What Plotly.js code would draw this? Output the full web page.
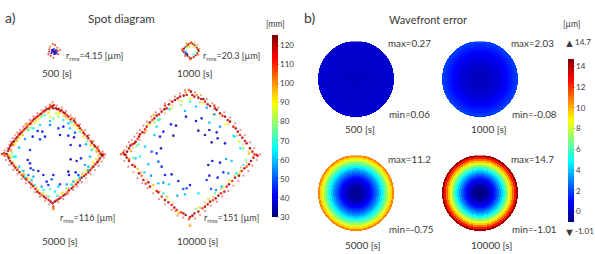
<!DOCTYPE html>
<html><head><meta charset="utf-8">
<script src="https://cdn.plot.ly/plotly-3.0.1.min.js"></script>
<style>html,body{margin:0;padding:0;background:#fff}#c{width:595px;height:254px}</style>
</head><body><div id="c"></div>
<script>
// Spot positions [x µm, y µm, radius mm] on the detector (origin: panel corner, y down)
const spots500 = [[72,50,125],[70,52,118],[74,48,120],[65,45,42],[78,45,40],[64,55,42],[80,55,38],[72,42,45],[72,58,42],[66,50,38],[78,50,36],[70,47,34],[75,53,34],[68,44,40],[76,56,40],
[68,27,108],[75,30,112],[58,43,110],[55,58,115],[85,58,112],[70,68,108],[90,45,110],[60,35,105],[82,38,108],[62,62,116],[83,48,118],[58,50,120]];
const spots1000 = [[62,24,118],[68,27,122],[74,31,120],[80,38,122],[84,44,125],[86,48,124],[82,55,125],[77,61,125],[71,66,123],[64,70,125],[58,67,123],[52,62,125],[47,58,125],[42,52,124],[38,47,125],[42,41,125],[46,36,123],[52,31,120],[56,27,122],
[64,21,105],[72,24,98],[50,25,100],[82,30,95],[88,42,100],[36,42,105],[85,60,102],[45,63,105],[60,73,108],[46,48,60],[48,54,45],[52,58,40],[70,58,70],[76,50,80],[60,31,90],[70,36,85],[50,38,78],[56,35,95]];
const spots5000 = [
[6,207,110],[13,205,118],[20,207,125],[24,198,118],[27,191,122],[31,184,116],[34,178,124],[38,172,120],[42,168,125],[40,180,105],[45,177,88],[33,196,100],[36,205,78],[47,161,118],[52,156,122],[50,168,98],[56,150,112],[60,146,124],[58,160,90],[65,142,118],[69,137,108],[68,150,95],[74,132,122],[77,118,98],[80,127,116],[84,122,105],[84,135,85],[89,117,120],[93,113,110],[92,128,78],[98,107,118],[103,102,124],[104,113,92],[108,98,112],[113,94,120],[115,103,88],[119,89,116],[124,86,122],[125,95,75],[130,80,118],[135,77,112],[134,90,70],[140,73,120],[146,71,124],[145,83,95],[152,67,118],[157,63,126],[160,70,122],[150,62,105],[162,60,112],
[168,70,120],[172,73,115],[176,72,124],[180,78,110],[184,76,120],[176,85,90],[168,86,82],[190,82,118],[195,85,122],[192,92,96],[200,90,110],[205,95,120],[202,102,85],[212,103,118],[216,100,105],[215,112,72],[222,107,124],[226,113,116],[222,120,92],[232,120,110],[236,123,122],[233,130,88],[240,130,118],[245,135,105],[240,140,78],[250,143,120],[254,148,112],[250,155,92],[262,153,124],[265,160,118],[262,168,75],[272,168,110],[276,173,122],[272,180,95],[282,180,116],[286,185,124],[280,190,88],[292,190,112],[296,197,120],[290,200,98],[300,203,108],[304,208,126],[296,210,95],[310,209,118],[306,213,122],
[300,220,118],[296,226,110],[288,222,85],[292,232,122],[286,238,116],[280,232,92],[280,245,124],[275,250,110],[268,245,80],[270,256,118],[265,262,122],[258,258,90],[258,268,112],[252,273,124],[248,270,95],[245,278,118],[240,285,108],[238,275,72],[234,292,122],[228,298,116],[228,288,88],[220,305,110],[215,310,124],[213,298,78],[207,316,118],[202,322,108],[200,310,82],[196,328,120],[190,332,122],[185,325,92],[182,338,116],[176,342,124],[172,332,70],[170,346,118],[164,350,125],[158,355,122],[160,365,110],[160,372,105],
[152,350,124],[146,345,118],[146,335,75],[138,340,116],[132,335,122],[130,325,85],[125,330,108],[118,325,118],[115,315,92],[112,320,122],[106,312,115],[100,305,95],[100,303,120],[94,298,116],[88,292,122],[88,282,88],[80,285,110],[76,280,120],[72,268,95],[70,275,118],[65,270,108],[62,260,80],[58,262,122],[52,255,116],[48,245,90],[46,248,120],[41,242,112],[38,232,98],[35,235,124],[30,228,118],[33,217,82],[27,220,122],[24,214,116],[28,210,95],[40,215,72],[47,215,65],[14,212,105],
[127,140,42],[113,138,42],[98,155,40],[75,162,55],[150,120,52],[150,108,60],[175,130,45],[190,125,42],[180,150,35],[205,152,40],[225,143,50],[222,157,38],[212,180,36],[240,182,42],[258,178,58],[120,163,45],[135,155,38],[57,188,60],[45,215,68],[58,245,62],[70,258,58],[90,195,45],[83,225,38],[90,235,42],[92,250,45],[100,255,50],[85,270,52],[100,275,58],[115,258,35],[130,270,40],[160,270,36],[155,283,50],[140,290,42],[145,300,44],[125,305,58],[180,298,46],[175,305,62],[205,260,36],[207,270,40],[227,262,42],[243,220,40],[230,228,36],[212,223,32],[255,240,56],[265,245,62],[270,215,60],[275,195,62],[265,255,60],[235,270,48],[240,280,58],[220,290,58],[215,300,68],[200,298,56],[130,315,66],[150,312,72],[165,320,65],[95,285,60],[75,275,68],[105,300,70],[160,100,75],[175,95,80],[190,105,68],[205,115,60],[150,95,85],[210,130,62],[120,120,62],[100,130,66],[85,135,70]];
const fringe5000 = [[14,197,115],[22,190,110],[28,180,118],[32,170,112],[38,160,115],[45,150,110],[52,143,118],[60,135,112],[70,125,116],[80,115,110],[90,105,118],[100,95,112],[112,85,116],[125,75,110],[138,66,118],[150,58,112],[158,52,115],
[44,172,100],[55,160,105],[62,152,98],[72,140,92],[82,130,100],[95,118,105],[108,108,100],[120,95,95],[135,85,90],[150,75,100],
[170,62,115],[185,68,110],[198,78,118],[212,92,112],[225,100,116],[240,118,110],[255,135,118],[268,150,112],[280,168,116],[295,185,110],[308,200,118],[316,208,112],
[180,84,100],[198,96,105],[210,110,98],[228,122,100],[244,140,95],[258,158,102],[275,175,100],[288,195,92],
[312,218,115],[305,230,110],[296,242,118],[285,255,112],[272,268,116],[258,280,110],[245,292,118],[232,305,112],[220,315,116],[205,328,110],[190,342,118],[175,352,112],
[290,230,100],[276,242,95],[262,256,102],[248,265,98],[232,285,100],[218,298,92],[205,310,105],[190,322,98],[176,335,100],
[148,358,115],[135,348,110],[120,335,118],[105,322,112],[92,308,116],[78,295,110],[65,282,118],[52,268,112],[40,255,116],[28,240,110],[18,225,118],
[140,332,100],[125,322,95],[110,308,102],[96,292,98],[82,278,100],[68,265,92],[55,250,105],[42,235,98]];
const spots10000 = [
[18,208,105],[25,203,112],[32,210,120],[36,200,124],[42,190,118],[46,182,124],[52,178,115],[48,198,100],[58,175,118],[62,170,122],[68,162,110],[72,155,120],[65,183,78],[70,178,72],[75,148,118],[82,142,122],[88,143,105],[90,133,112],[95,125,118],[100,118,92],[105,112,120],[112,105,110],[116,90,98],[118,100,118],[125,92,122],[118,112,80],[132,88,116],[125,125,62],[128,105,72],[135,103,75],[140,80,120],[148,73,124],[150,62,110],[155,70,118],[162,58,122],[168,70,88],[172,50,116],[180,45,124],[188,40,118],[195,35,120],[200,48,85],[206,32,122],[215,30,118],[222,15,108],[228,20,124],[212,22,100],[232,30,120],[225,40,90],
[238,35,116],[245,30,100],[250,38,122],[258,42,118],[265,42,124],[270,50,112],[262,55,85],[278,58,118],[285,63,122],[298,62,110],[300,70,120],[305,75,124],[295,88,92],[315,85,118],[322,92,110],[330,95,122],[338,105,118],[345,110,124],[332,118,90],[355,125,116],[362,130,120],[368,140,122],[355,152,70],[375,150,112],[382,158,120],[372,170,86],[390,168,118],[395,175,122],[385,190,78],[405,190,124],[402,205,96],[412,200,118],[418,208,110],[425,210,126],[428,212,112],
[415,218,118],[408,228,122],[402,238,118],[392,225,75],[395,245,108],[388,250,122],[380,258,116],[375,262,92],[372,272,124],[365,265,75],[360,278,118],[352,288,110],[345,285,85],[342,298,122],[335,305,116],[325,308,85],[328,320,120],[318,325,112],[310,332,122],[300,325,75],[302,340,118],[294,346,108],[285,350,122],[278,358,116],[280,342,92],[270,365,120],[262,370,110],[255,368,82],[250,380,122],[242,372,78],[238,385,116],[232,392,124],[225,396,118],[222,402,108],[225,422,100],
[212,390,122],[205,385,118],[198,382,110],[190,385,95],[185,375,116],[178,368,122],[182,378,102],[170,360,112],[160,352,118],[158,338,85],[150,345,122],[145,325,70],[140,335,110],[130,322,120],[125,318,116],[115,300,95],[105,305,118],[100,292,122],[92,296,108],[85,285,118],[80,272,105],[72,265,120],[68,252,95],[60,245,116],[52,240,122],[42,228,118],[55,218,75],[35,218,120],[42,222,105],[28,208,124],[62,220,62],
[168,118,40],[183,122,36],[145,140,42],[118,150,60],[135,155,42],[175,152,30],[213,95,38],[210,78,58],[243,108,38],[260,100,42],[298,88,55],[315,125,56],[283,113,60],[283,135,38],[305,142,40],[270,150,35],[250,137,32],[308,160,38],[290,172,32],[330,175,38],[358,155,62],[376,190,66],[90,185,62],[110,200,50],[125,205,45],[138,190,36],[75,215,70],[100,238,60],[130,230,50],[140,245,42],[150,270,42],[170,268,38],[88,262,62],[108,272,55],[130,295,60],[145,293,55],[162,298,62],[190,288,42],[205,312,48],[215,310,50],[187,332,58],[210,328,60],[225,300,42],[250,325,66],[280,240,34],[292,228,38],[315,233,42],[333,222,56],[350,228,60],[340,265,55],[325,262,45],[283,272,38],[308,278,42],[275,285,45],[288,312,50],[303,315,55],[320,305,60],[365,265,68],[385,240,70],[198,60,78],[225,50,72],[243,65,62],[275,68,60],[163,73,66],[132,105,70]];
const fringe10000 = [[28,196,115],[35,185,110],[42,172,118],[50,165,112],[58,155,115],[66,145,110],[75,135,118],[85,122,112],[96,110,116],[108,95,110],[122,82,118],[136,72,112],[150,55,116],[165,47,110],[180,35,118],[195,25,112],[210,15,115],
[55,188,100],[75,165,105],[95,138,98],[110,120,92],[130,100,100],[150,85,105],[172,62,100],[192,48,95],
[240,22,115],[258,30,110],[275,42,118],[292,55,112],[310,68,116],[328,82,110],[345,98,118],[360,115,112],[376,135,116],[390,150,110],[405,172,118],[418,190,112],[436,208,115],
[255,52,100],[275,70,105],[295,75,98],[315,98,92],[340,118,100],[365,152,105],[385,178,100],[400,198,95],
[425,225,115],[412,242,110],[400,258,118],[385,272,112],[370,288,116],[355,302,110],[340,318,118],[322,335,112],[305,350,116],[288,362,110],[270,378,118],[255,390,112],[240,400,115],
[395,232,100],[378,248,105],[358,270,98],[338,290,92],[318,312,100],[295,335,105],[270,352,100],[250,368,95],
[205,398,115],[188,392,110],[170,375,118],[150,358,112],[132,342,116],[115,325,110],[98,310,118],[82,295,112],[68,280,116],[55,262,110],[40,245,118],[28,228,112],
[175,355,100],[155,335,105],[135,318,98],[115,312,92],[95,285,100],[78,262,105],[58,238,100],[40,222,95]];

// Wavefront error [µm] in 20 rings from pupil centre to edge
const wave500 = [0.06,0.06,0.06,0.07,0.07,0.08,0.08,0.09,0.10,0.11,0.12,0.13,0.14,0.16,0.17,0.19,0.20,0.22,0.24,0.26];
const wave1000 = [-0.08,-0.07,-0.05,-0.02,0.03,0.08,0.14,0.22,0.30,0.40,0.50,0.62,0.74,0.88,1.03,1.19,1.36,1.54,1.73,1.93];
const wave5000 = [-0.74,-0.68,-0.56,-0.38,-0.15,0.15,0.51,0.93,1.41,1.95,2.54,3.2,3.92,4.7,5.53,6.43,7.38,8.4,9.47,10.7];
const wave10000 = [-1.0,-0.92,-0.76,-0.53,-0.21,0.18,0.65,1.2,1.83,2.53,3.32,4.18,5.13,6.15,7.25,8.43,9.68,11.02,12.43,14.2];

const spotTicks = [30,40,50,60,70,80,90,100,110,120];
const waveTicks = [0,2,4,6,8,10,12,14];
const rmsLabels = ["r<sub>rms</sub>=4.15 [µm]","r<sub>rms</sub>=20.3 [µm]","r<sub>rms</sub>=116 [µm]","r<sub>rms</sub>=151 [µm]"];
const timeLabels = ["500 [s]","1000 [s]","5000 [s]","10000 [s]"];
const maxLabels = ["max=0.27","max=2.03","max=11.2","max=14.7"];
const minLabels = ["min=0.06","min=-0.08","min=-0.75","min=-1.01"];

const W=595,H=254, FONT="Lato, 'Open Sans', sans-serif", TXT="#3a3a3a";
const jet=[[0,'#00007f'],[0.125,'#0000ff'],[0.375,'#00ffff'],[0.625,'#ffff00'],[0.875,'#ff0000'],[1,'#7f0000']];
const layout={width:W,height:H,margin:{l:0,r:0,t:0,b:0,autoexpand:false},paper_bgcolor:'#fff',plot_bgcolor:'rgba(0,0,0,0)',showlegend:false,annotations:[],
 font:{family:FONT,color:TXT},
 coloraxis:{cmin:30,cmax:125.4,colorscale:jet,colorbar:{thickness:5.5,thicknessmode:'pixels',len:182,lenmode:'pixels',x:272/W,xanchor:'left',xpad:0,ypad:0,y:1-35/H,yanchor:'top',outlinewidth:0,tickvals:spotTicks,ticks:'outside',ticklen:1,tickwidth:0.5,tickcolor:'#444',tickfont:{size:8,family:FONT,color:TXT}}},
 coloraxis2:{cmin:-1.01,cmax:14.7,colorscale:jet,colorbar:{thickness:6,thicknessmode:'pixels',len:162.6,lenmode:'pixels',x:567.7/W,xanchor:'left',xpad:0,ypad:0,y:1-59/H,yanchor:'top',outlinewidth:0,tickvals:waveTicks,ticks:'outside',ticklen:1,tickwidth:0.5,tickcolor:'#444',tickfont:{size:8,family:FONT,color:TXT}}}
};
const data=[];
let n=0;
function axes(x0,x1,y0,y1,xr,yr){
 n++; const s=n===1?'':n;
 layout['xaxis'+s]={domain:[x0/W,x1/W],range:xr,visible:false,fixedrange:true,anchor:'y'+s};
 layout['yaxis'+s]={domain:[1-y1/H,1-y0/H],range:yr,visible:false,fixedrange:true,anchor:'x'+s};
 return ['x'+s,'y'+s];
}
function cloud(pts,xa,ya,sz,op){
 data.push({type:'scatter',mode:'markers',xaxis:xa,yaxis:ya,x:pts.map(p=>p[0]),y:pts.map(p=>p[1]),hoverinfo:'skip',
  marker:{size:sz,color:pts.map(p=>p[2]),coloraxis:'coloraxis',opacity:op,line:{width:0}}});
}
function spot(pts,fringe,box,xr,yr,sz){
 const [xa,ya]=axes(box[0],box[1],box[2],box[3],xr,yr);
 if(fringe.length)cloud(fringe,xa,ya,2.1,0.5);
 cloud(pts,xa,ya,sz,0.85);
}
spot(spots500,[],[30,80,35,75],[0,150],[120,0],2);
spot(spots1000,[],[170,220,35,75],[0,150],[120,0],2.2);
spot(spots5000,fringe5000,[0,130,85,254],[0,390],[507,0],2.6);
spot(spots10000,fringe10000,[115,305,85,254],[0,570],[507,0],2.6);

function wave(prof,cx,cy){
 const R=38,N=76;
 const [xa,ya]=axes(cx-R,cx+R,cy-R,cy+R,[-1,1],[-1,1]);
 const c=[],z=[];
 for(let i=0;i<N;i++)c.push((i+0.5)/N*2-1);
 for(let j=0;j<N;j++){const row=[];for(let i=0;i<N;i++){const r=Math.hypot(c[i],c[j]);row.push(r>1?null:prof[Math.min(prof.length-1,Math.floor(r*prof.length))]);}z.push(row);}
 data.push({type:'heatmap',xaxis:xa,yaxis:ya,x:c,y:c,z:z,coloraxis:'coloraxis2',hoverinfo:'skip'});
}
const wc=[[356,79.3],[480,79.3],[356,193.3],[480,193.3]];
[wave500,wave1000,wave5000,wave10000].forEach((p,i)=>wave(p,wc[i][0],wc[i][1]));

function note(text,x,y,size,anchor){
 layout.annotations.push({text:text,x:x/W,y:1-y/H,xref:'paper',yref:'paper',xanchor:anchor||'left',yanchor:'middle',showarrow:false,align:'left',borderpad:0,font:{size:size||9.6,family:FONT,color:TXT}});
}
note('a)',4,18,14);note('b)',303,18,14);
note('Spot diagram',121.5,19,11.6,'center');note('Wavefront error',428,19.5,11,'center');
note('[mm]',275.5,24,8.5,'center');note('[µm]',571.7,24,8.5,'center');
[[65,55.7],[202,55.5],[58.7,218],[203,217.7]].forEach((p,i)=>note(rmsLabels[i],p[0],p[1],9));
[[41,73.5],[175.7,73.5],[40.7,240.7],[176.3,240.7]].forEach((p,i)=>note(timeLabels[i],p[0],p[1],10));
[[344,129.3],[470,129.3],[344,245],[470,245]].forEach((p,i)=>note(timeLabels[i],p[0],p[1],10));
[[387.3,43.3],[510,43.3],[387,159],[510,159]].forEach((p,i)=>note(maxLabels[i],p[0],p[1],9.8));
[[388,113.7],[511,113.7],[388,229.3],[511,229.3]].forEach((p,i)=>note(minLabels[i],p[0],p[1],9.8));
note('▲',563,42,11);note('14.7',574,42,8);
note('▼',563,231,11);note('-1.01',574,231,8);

Plotly.newPlot('c',data,layout,{displayModeBar:false,staticPlot:true});
</script></body></html>
